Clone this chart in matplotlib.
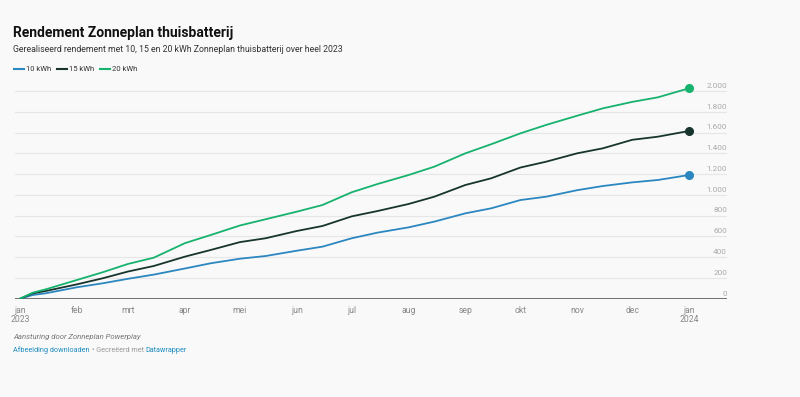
import pandas as pd
import numpy as np
import matplotlib
matplotlib.use('Agg')
import matplotlib.pyplot as plt
import matplotlib.dates as mdates
from matplotlib.lines import Line2D

plt.rcParams['font.family'] = ['Roboto', 'DejaVu Sans']

# Data (cumulative return in euro)
dates = pd.to_datetime([
    '2023-01-01', '2023-01-08', '2023-01-15', '2023-02-01', '2023-02-15',
    '2023-03-01', '2023-03-15', '2023-04-01', '2023-04-15', '2023-05-01',
    '2023-05-15', '2023-06-01', '2023-06-15', '2023-07-01', '2023-07-15',
    '2023-08-01', '2023-08-15', '2023-09-01', '2023-09-15', '2023-10-01',
    '2023-10-15', '2023-11-01', '2023-11-15', '2023-12-01', '2023-12-15',
    '2024-01-01'])
kwh10 = [0, 36, 52, 110, 148, 192, 232, 291, 341, 385, 411, 462, 501, 582,
         636, 687, 742, 822, 870, 950, 982, 1045, 1085, 1120, 1143, 1191]
kwh15 = [0, 52, 74, 138, 196, 262, 315, 405, 469, 545, 582, 652, 700, 793,
         844, 912, 982, 1095, 1159, 1263, 1319, 1400, 1448, 1530, 1560, 1615]
kwh20 = [0, 58, 90, 180, 254, 335, 395, 535, 613, 705, 765, 838, 902, 1025,
         1104, 1191, 1271, 1400, 1487, 1592, 1673, 1762, 1833, 1895, 1939, 2026]

series_names = ['10 kWh', '15 kWh', '20 kWh']
colors = ['#2b87c0', '#17352d', '#16b26e']

y_ticks = [0, 200, 400, 600, 800, 1000, 1200, 1400, 1600, 1800, 2000]
y_labels = ['0', '200', '400', '600', '800', '1.000', '1.200', '1.400',
            '1.600', '1.800', '2.000']
month_ticks = pd.date_range('2023-01-01', '2024-01-01', freq='MS')
month_labels = ['jan\n2023', 'feb', 'mrt', 'apr', 'mei', 'jun', 'jul', 'aug',
                'sep', 'okt', 'nov', 'dec', 'jan\n2024']

W, H = 800, 397
bg = '#f9f9f9'
fig = plt.figure(figsize=(W / 100, H / 100), dpi=100, facecolor=bg)

def fx(px):
    return px / W

def fy(py):
    return 1 - py / H

ax = fig.add_axes([fx(15), fy(298.7), fx(727 - 15), fy(80) - fy(298.7)])
ax.set_facecolor(bg)

d0 = mdates.date2num(pd.Timestamp('2023-01-01'))
ppd = (689 - 20) / 365
ax.set_xlim(d0 - 5 / ppd, d0 + (727 - 20) / ppd)
ax.set_ylim(0, 2000 + (91 - 80) / 20.77 * 200)

for v in y_ticks[1:]:
    ax.axhline(v, color='#e6e6e6', lw=0.8, zorder=0)
ax.axhline(0, color='#666666', lw=1.3, zorder=3)

for vals, name, c in zip([kwh10, kwh15, kwh20], series_names, colors):
    ax.plot(dates, vals, color=c, lw=1.3, zorder=4, solid_capstyle='round')
    ax.plot(dates[-1:], vals[-1:], 'o', color=c, ms=5.5, zorder=5, clip_on=False)

for v, lab in zip(y_ticks, y_labels):
    ax.text(1.0, v + 50, lab, transform=ax.get_yaxis_transform(),
            ha='right', va='center', fontsize=5.9, color='#aaaaaa')

ax.set_yticks([])
ax.set_xticks(month_ticks)
ax.set_xticklabels(month_labels, fontsize=6.2, color='#888888', linespacing=1.1)
ax.tick_params(axis='x', length=0, pad=5)
for s in ax.spines.values():
    s.set_visible(False)

# Header
fig.text(fx(13), fy(33), 'Rendement Zonneplan thuisbatterij', fontsize=10,
         fontweight='bold', color='#111111', va='center', ha='left')
fig.text(fx(13), fy(50), 'Gerealiseerd rendement met 10, 15 en 20 kWh Zonneplan thuisbatterij over heel 2023',
         fontsize=6.3, color='#333333', va='center', ha='left')

# Legend
leg_x = [14, 57, 100]
for x0, name, c in zip(leg_x, series_names, colors):
    fig.add_artist(Line2D([fx(x0), fx(x0 + 10)], [fy(69), fy(69)], color=c, lw=1.5))
    fig.text(fx(x0 + 12), fy(69), name, fontsize=5.5, color='#333333', va='center', ha='left')

# Footer
fig.text(fx(13), fy(337.5), 'Aansturing door Zonneplan Powerplay', fontsize=5.6,
         style='italic', color='#777777', va='center', ha='left')
t1 = fig.text(fx(13), fy(350), 'Afbeelding downloaden', fontsize=5.2,
              color='#1d8bbf', va='center', ha='left')
fig.canvas.draw()
bb = t1.get_window_extent()
t2 = fig.text(bb.x1 / W + fx(2), fy(350), '\u2022 Gecre\u00eberd met ', fontsize=5.2,
              color='#999999', va='center', ha='left')
fig.canvas.draw()
bb2 = t2.get_window_extent()
fig.text(bb2.x1 / W, fy(350), 'Datawrapper', fontsize=5.2,
         color='#1d8bbf', va='center', ha='left')

fig.savefig('out.png', dpi=100, facecolor=bg)
